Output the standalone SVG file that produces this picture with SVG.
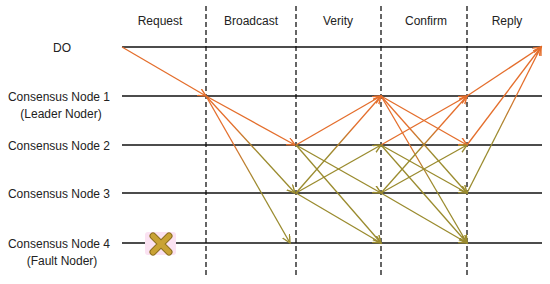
<svg xmlns="http://www.w3.org/2000/svg" width="550" height="284" viewBox="0 0 550 284">
<style>
.lbl{font-family:"Liberation Sans",Arial,sans-serif;font-size:12px;fill:#222;text-anchor:middle}
.hl{stroke:#111;stroke-width:1.5}
.dl{stroke:#333;stroke-width:1.5;stroke-dasharray:5 3}
.o{stroke:#E46E2C;stroke-width:1.3;fill:none;marker-end:url(#ao)}
.g{stroke:#9A8B2E;stroke-width:1.3;fill:none;marker-end:url(#ag)}
.og{stroke:url(#gOG);stroke-width:1.3;fill:none;marker-end:url(#ag)}
.go{stroke:url(#gGO);stroke-width:1.3;fill:none;marker-end:url(#ao)}
</style>
<defs>
<marker id="ao" markerUnits="userSpaceOnUse" markerWidth="10" markerHeight="10" refX="8" refY="4" orient="auto"><path d="M0,0 L8,4 L0,8" fill="none" stroke="#E46E2C" stroke-width="1.4"/></marker>
<marker id="ag" markerUnits="userSpaceOnUse" markerWidth="10" markerHeight="10" refX="8" refY="4" orient="auto"><path d="M0,0 L8,4 L0,8" fill="none" stroke="#9A8B2E" stroke-width="1.4"/></marker>
<linearGradient id="gOG" x1="0" y1="0" x2="1" y2="0"><stop offset="0.3" stop-color="#E46E2C"/><stop offset="0.6" stop-color="#9A8B2E"/></linearGradient>
<linearGradient id="gGO" x1="0" y1="0" x2="1" y2="0"><stop offset="0.4" stop-color="#9A8B2E"/><stop offset="0.7" stop-color="#E46E2C"/></linearGradient>
</defs>
<rect width="550" height="284" fill="#fff"/>
<g id="headers">
<text class="lbl" x="160" y="25">Request</text>
<text class="lbl" x="251" y="25">Broadcast</text>
<text class="lbl" x="338" y="25">Verity</text>
<text class="lbl" x="426" y="25">Confirm</text>
<text class="lbl" x="507" y="25">Reply</text>
</g>
<g id="phase-dividers">
<line class="dl" x1="206" y1="6" x2="206" y2="277"/>
<line class="dl" x1="296" y1="6" x2="296" y2="277"/>
<line class="dl" x1="381" y1="6" x2="381" y2="277"/>
<line class="dl" x1="467" y1="6" x2="467" y2="277"/>
</g>
<g id="DO"><text class="lbl" x="62" y="52">DO</text><line class="hl" x1="122" y1="47" x2="542" y2="47"/></g>
<g id="node1"><text class="lbl" x="59" y="101">Consensus Node 1</text><text class="lbl" x="61" y="118">(Leader Noder)</text><line class="hl" x1="122" y1="96" x2="542" y2="96"/></g>
<g id="node2"><text class="lbl" x="59" y="150">Consensus Node 2</text><line class="hl" x1="122" y1="145" x2="542" y2="145"/></g>
<g id="node3"><text class="lbl" x="59" y="198">Consensus Node 3</text><line class="hl" x1="122" y1="193" x2="542" y2="193"/></g>
<g id="node4"><text class="lbl" x="59" y="248">Consensus Node 4</text><text class="lbl" x="62" y="265">(Fault Noder)</text><line class="hl" x1="122" y1="243" x2="542" y2="243"/>
<rect x="145" y="232" width="31" height="23" rx="3" fill="#FBE2F2"/>
<path d="M153,236 L169,252 M169,236 L153,252" stroke="#8C7020" stroke-width="7" stroke-linecap="round"/>
<path d="M153,236 L169,252 M169,236 L153,252" stroke="#C9A234" stroke-width="5" stroke-linecap="round"/>
</g>
<g id="connectors">
<line class="o" x1="122" y1="47" x2="206" y2="96"/>
<line class="o" x1="206" y1="96" x2="295" y2="145"/>
<line class="og" x1="206" y1="96" x2="295" y2="193"/>
<line class="og" x1="206" y1="96" x2="290" y2="243"/>
<line class="o" x1="296" y1="145" x2="381" y2="96"/>
<line class="go" x1="296" y1="193" x2="381" y2="96"/>
<line class="g" x1="296" y1="145" x2="381" y2="193"/>
<line class="g" x1="296" y1="145" x2="381" y2="243"/>
<line class="g" x1="296" y1="193" x2="381" y2="145"/>
<line class="g" x1="296" y1="193" x2="381" y2="243"/>
<line class="o" x1="381" y1="96" x2="467" y2="145"/>
<line class="og" x1="381" y1="96" x2="467" y2="193"/>
<line class="og" x1="381" y1="96" x2="467" y2="243"/>
<line class="o" x1="381" y1="145" x2="467" y2="96"/>
<line class="go" x1="381" y1="193" x2="467" y2="96"/>
<line class="g" x1="381" y1="145" x2="467" y2="193"/>
<line class="g" x1="381" y1="145" x2="467" y2="243"/>
<line class="g" x1="381" y1="193" x2="467" y2="145"/>
<line class="g" x1="381" y1="193" x2="467" y2="243"/>
<line class="o" x1="467" y1="96" x2="541" y2="47"/>
<line class="o" x1="467" y1="145" x2="541" y2="47"/>
<line class="go" x1="467" y1="193" x2="541" y2="47"/>
</g>
</svg>
